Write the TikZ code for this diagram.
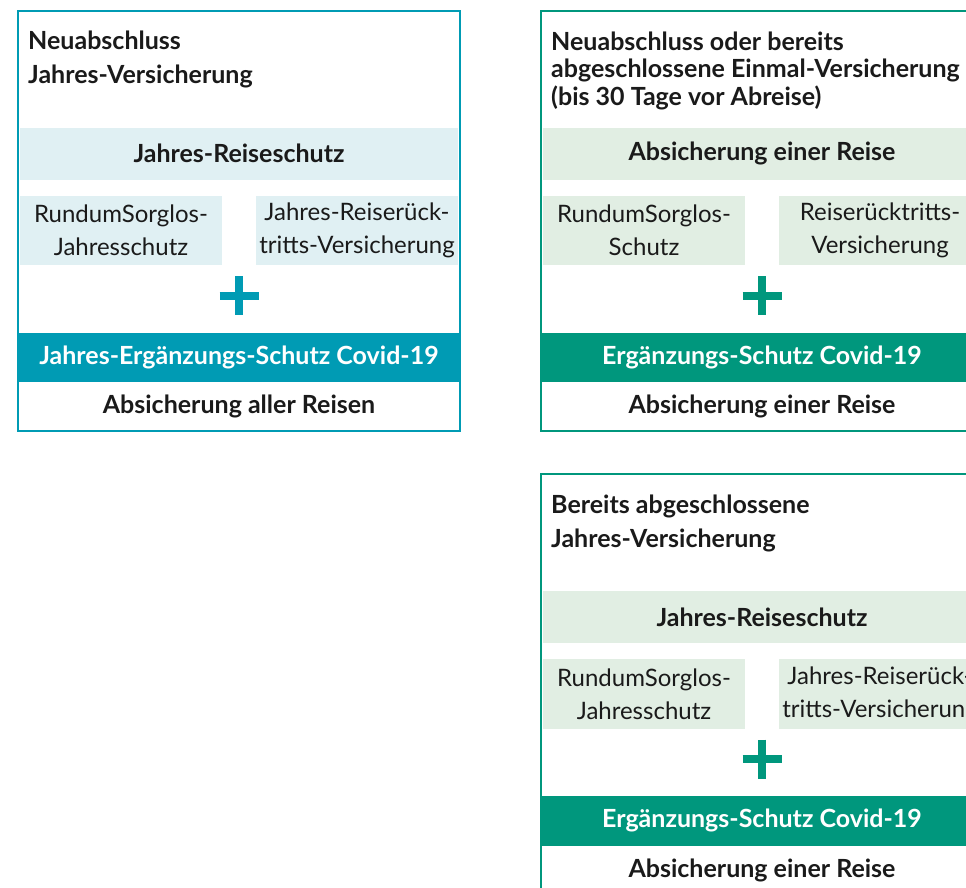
\documentclass[tikz,border=0pt]{standalone}
\usepackage{fontspec}
\setmainfont{Lato}

\definecolor{jteal}{HTML}{009BB4}
\definecolor{jlight}{HTML}{E0F0F3}
\definecolor{egreen}{HTML}{00977D}
\definecolor{elight}{HTML}{E1EEE3}
\definecolor{ink}{HTML}{1A1A1A}

\tikzset{
  titletext/.style={anchor=west, align=left, inner sep=0pt, text=ink,
    font=\fontsize{25pt}{34pt}\selectfont\bfseries},
  bandbox/.style={inner sep=0pt, minimum width=438pt, minimum height=52pt,
    text=ink, font=\fontsize{25pt}{30pt}\selectfont\bfseries},
  subbox/.style={inner sep=0pt, minimum width=202pt, minimum height=69.5pt,
    align=center, text=ink, font=\fontsize{24pt}{33pt}\selectfont},
  covidbox/.style={inner sep=0pt, minimum width=442pt, minimum height=49.5pt,
    text=white, font=\fontsize{25pt}{30pt}\selectfont\bfseries},
  foottext/.style={inner sep=0pt, text=ink,
    font=\fontsize{25pt}{30pt}\selectfont\bfseries},
  plusbar/.style={line width=8pt}
}

\begin{document}
\begin{tikzpicture}[x=1pt, y=-1pt]
  \useasboundingbox (0,0) rectangle (966,887);
  \clip (0,0) rectangle (966,887);

  % Neuabschluss Jahres-Versicherung
  \begin{scope}[shift={(18,10.7)}]
    \draw[jteal, line width=2pt] (0,0) rectangle (442,420);
    \node[titletext] (jtitle) at (10,49) {Neuabschluss\\Jahres-Versicherung};
    \node[bandbox, fill=jlight] (jband) at (221,143) {Jahres-Reiseschutz};
    \node[subbox, fill=jlight] (jleft) at (103,220) {RundumSorglos-\\Jahresschutz};
    \node[subbox, fill=jlight] (jright) at (339,220) {Jahres-Reiserück-\\tritts-Versicherung};
    \coordinate (jplus) at (221,285);
    \draw[plusbar, jteal] (jplus) ++(0,-19.5) -- ++(0,39) (jplus) ++(-19.5,0) -- ++(39,0);
    \node[covidbox, fill=jteal] (jcovid) at (221,346.75) {Jahres-Ergänzungs-Schutz Covid-19};
    \node[foottext] (jfoot) at (221,396) {Absicherung aller Reisen};
  \end{scope}

  % Einmal-Versicherung
  \begin{scope}[shift={(541,10.7)}]
    \draw[egreen, line width=2pt] (0,0) rectangle (442,420);
    \node[titletext, font=\fontsize{25pt}{27.5pt}\selectfont\bfseries] (etitle) at (10,60)
      {Neuabschluss oder bereits\\abgeschlossene Einmal-Versicherung\\(bis 30 Tage vor Abreise)};
    \node[bandbox, fill=elight] (eband) at (221,143) {Absicherung einer Reise};
    \node[subbox, fill=elight] (eleft) at (103,220) {RundumSorglos-\\Schutz};
    \node[subbox, fill=elight] (eright) at (339,220) {Reiserücktritts-\\Versicherung};
    \coordinate (eplus) at (221,285);
    \draw[plusbar, egreen] (eplus) ++(0,-19.5) -- ++(0,39) (eplus) ++(-19.5,0) -- ++(39,0);
    \node[covidbox, fill=egreen] (ecovid) at (221,346.75) {Ergänzungs-Schutz Covid-19};
    \node[foottext] (efoot) at (221,396) {Absicherung einer Reise};
  \end{scope}

  % Bereits abgeschlossene Jahres-Versicherung
  \begin{scope}[shift={(541,474)}]
    \draw[egreen, line width=2pt] (0,0) rectangle (442,420);
    \node[titletext] (btitle) at (10,49) {Bereits abgeschlossene\\Jahres-Versicherung};
    \node[bandbox, fill=elight] (bband) at (221,143) {Jahres-Reiseschutz};
    \node[subbox, fill=elight] (bleft) at (103,220) {RundumSorglos-\\Jahresschutz};
    \node[subbox, fill=elight] (bright) at (339,220) {Jahres-Reiserück-\\tritts-Versicherung};
    \coordinate (bplus) at (221,285);
    \draw[plusbar, egreen] (bplus) ++(0,-19.5) -- ++(0,39) (bplus) ++(-19.5,0) -- ++(39,0);
    \node[covidbox, fill=egreen] (bcovid) at (221,346.75) {Ergänzungs-Schutz Covid-19};
    \node[foottext] (bfoot) at (221,396) {Absicherung einer Reise};
  \end{scope}
\end{tikzpicture}
\end{document}
